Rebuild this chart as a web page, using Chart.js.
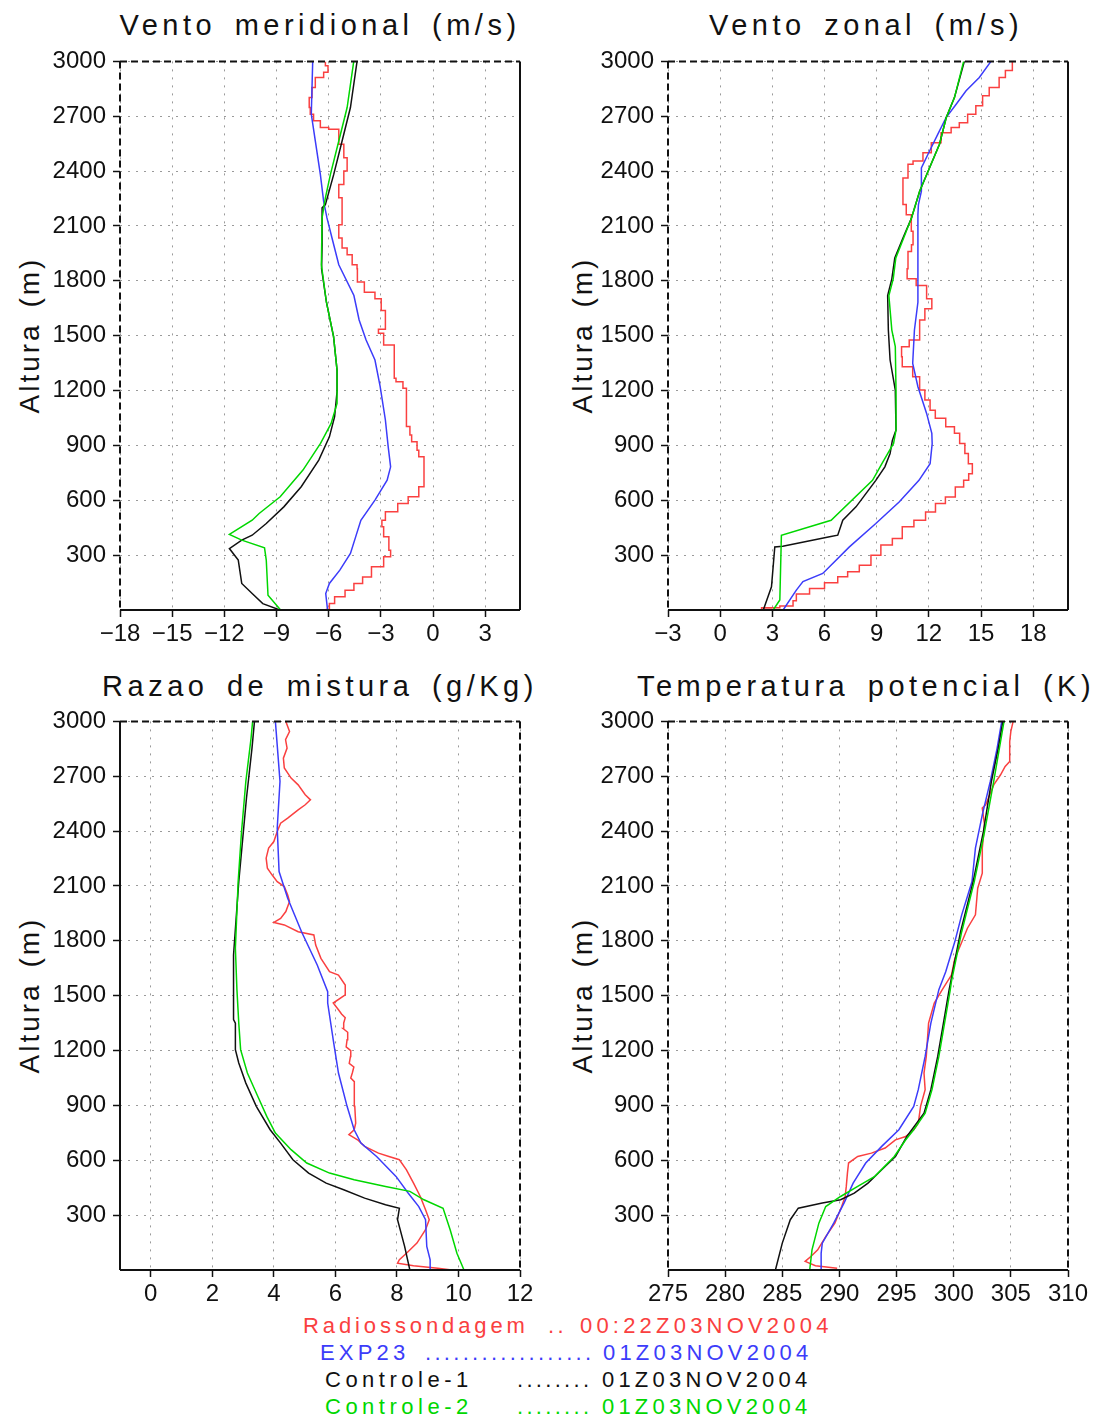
<!DOCTYPE html>
<html><head><meta charset="utf-8">
<script src="https://cdn.jsdelivr.net/npm/chart.js@4.4.1/dist/chart.umd.min.js"></script>
<style>
html,body{margin:0;padding:0;background:#fff;}
body{width:1097px;height:1423px;position:relative;overflow:hidden;font-family:"Liberation Sans",Arial,sans-serif;}
.cw{position:absolute;width:548px;height:610px;}
.title{position:absolute;font-size:29px;letter-spacing:4.5px;word-spacing:6px;white-space:pre;transform:translate(-50%,-50%);line-height:1;color:#111;}
.ytitle{position:absolute;font-size:28px;letter-spacing:3px;word-spacing:4px;white-space:pre;transform:translate(-50%,-50%) rotate(-90deg);line-height:1;color:#111;}
.leg{position:absolute;font-size:22px;letter-spacing:4.2px;white-space:pre;line-height:22px;}
.dots{letter-spacing:3.3px;}
</style>
</head><body>
<div class="title" style="left:320px;top:25px">Vento meridional (m/s)</div>
<div class="title" style="left:866px;top:25px">Vento zonal (m/s)</div>
<div class="title" style="left:320px;top:686px">Razao de mistura (g/Kg)</div>
<div class="title" style="left:866px;top:686px">Temperatura potencial (K)</div>
<div class="ytitle" style="left:30px;top:335px">Altura (m)</div>
<div class="ytitle" style="left:583px;top:335px">Altura (m)</div>
<div class="ytitle" style="left:30px;top:995px">Altura (m)</div>
<div class="ytitle" style="left:583px;top:995px">Altura (m)</div>

<div class="cw" style="left:0;top:40px"><canvas id="c1" width="548" height="610"></canvas></div>
<div class="cw" style="left:548px;top:40px"><canvas id="c2" width="548" height="610"></canvas></div>
<div class="cw" style="left:0;top:700px"><canvas id="c3" width="548" height="610"></canvas></div>
<div class="cw" style="left:548px;top:700px"><canvas id="c4" width="548" height="610"></canvas></div>

<div style="color:rgb(250,64,64)">
  <span class="leg" style="left:303px;top:1315px;letter-spacing:3.9px">Radiossondagem</span>
  <span class="leg dots" style="left:548px;top:1315px">..</span>
  <span class="leg" style="left:580px;top:1315px">00:22Z03NOV2004</span>
</div>
<div style="color:rgb(60,60,250)">
  <span class="leg" style="left:320px;top:1342px">EXP23</span>
  <span class="leg dots" style="left:425px;top:1342px">..................</span>
  <span class="leg" style="left:603px;top:1342px">01Z03NOV2004</span>
</div>
<div style="color:#111">
  <span class="leg" style="left:325px;top:1369px;letter-spacing:4.5px">Controle-1</span>
  <span class="leg dots" style="left:517px;top:1369px">........</span>
  <span class="leg" style="left:602px;top:1369px">01Z03NOV2004</span>
</div>
<div style="color:rgb(0,215,0)">
  <span class="leg" style="left:325px;top:1396px;letter-spacing:4.5px">Controle-2</span>
  <span class="leg dots" style="left:517px;top:1396px">........</span>
  <span class="leg" style="left:602px;top:1396px">01Z03NOV2004</span>
</div>

<script>
// ---------- tick labels ----------
const yTicks = [300,600,900,1200,1500,1800,2100,2400,2700,3000];
const merTicks = [-18,-15,-12,-9,-6,-3,0,3];
const zonTicks = [-3,0,3,6,9,12,15,18];
const mixTicks = [0,2,4,6,8,10,12];
const thTicks = [275,280,285,290,295,300,305,310];

// ---------- Vento meridional (m/s) ----------
const mer_radio_h = [3,35,72,108,145,181,236,291,327,400,455,491,537,583,619,674,710,838,874,920,957,1003,1048,1212,1248,1267,1312,1449,1513,1535,1574,1638,1702,1738,1793,1866,1888,1943,1979,2034,2107,2162,2254,2327,2400,2473,2547,2629,2638,2675,2711,2748,2802,2857,2912,2940,2976,3000];
const mer_radio_v = [-6.17,-5.96,-5.66,-5.06,-4.55,-4.05,-3.54,-2.84,-2.44,-2.54,-2.84,-2.94,-2.74,-2.03,-1.43,-0.82,-0.52,-0.52,-0.82,-0.92,-1.23,-1.33,-1.53,-1.53,-1.73,-2.13,-2.23,-2.23,-2.84,-3.14,-2.74,-2.74,-2.98,-3.34,-3.95,-4.35,-4.37,-4.65,-4.94,-5.23,-5.42,-5.23,-5.23,-5.42,-5.13,-4.94,-5.13,-5.42,-6.0,-6.48,-6.87,-7.06,-7.12,-6.96,-6.77,-6.29,-6.04,-6.19];
const mer_exp_h = [3,90,145,218,309,400,491,601,710,783,893,1039,1221,1367,1476,1586,1720,1888,2034,2144,2235,2382,2565,2711,3000];
const mer_exp_v = [-6.07,-6.17,-5.96,-5.36,-4.75,-4.45,-4.15,-3.34,-2.64,-2.44,-2.58,-2.74,-3.04,-3.34,-3.85,-4.25,-4.55,-5.42,-5.81,-6.10,-6.29,-6.48,-6.77,-7.0,-6.92];
const mer_c1_h = [3,35,90,145,273,336,382,409,473,564,674,820,947,1057,1194,1312,1495,1683,1866,1998,2199,2217,2382,2565,2748,3000];
const mer_c1_v = [-8.89,-9.79,-10.40,-11.00,-11.20,-11.71,-11.00,-10.40,-9.59,-8.58,-7.58,-6.57,-5.96,-5.66,-5.52,-5.52,-5.72,-6.13,-6.41,-6.38,-6.38,-6.19,-5.71,-5.23,-4.75,-4.37];
const mer_c2_h = [3,81,273,340,382,413,491,528,619,765,911,1020,1130,1312,1495,1683,1888,2144,2254,2382,2565,2748,3000];
const mer_c2_v = [-8.79,-9.49,-9.59,-9.69,-11.0,-11.71,-10.4,-10.0,-8.79,-7.48,-6.47,-5.86,-5.52,-5.52,-5.72,-6.13,-6.42,-6.38,-6.19,-5.90,-5.42,-4.94,-4.56];

// ---------- Vento zonal (m/s) ----------
const zon_radio_h = [3,12,22,50,87,118,149,182,209,245,300,355,391,455,491,536,582,618,673,709,745,800,856,911,966,1002,1048,1093,1148,1203,1276,1330,1385,1440,1476,1531,1586,1647,1702,1775,1811,1866,1961,1998,2071,2162,2217,2290,2363,2437,2455,2501,2555,2610,2638,2665,2711,2757,2812,2857,2912,2950,3000];
const zon_radio_v = [3.0,2.38,3.43,4.19,4.38,5.14,6.0,6.76,7.33,8.0,8.67,9.24,9.9,10.47,11.14,11.81,12.38,12.95,13.52,14.0,14.29,14.5,14.27,14.07,13.77,13.47,12.97,12.37,12.07,11.77,11.47,11.07,10.47,10.43,10.87,11.47,11.47,11.77,12.17,11.87,11.27,10.75,10.8,11.0,11.09,10.99,10.7,10.51,10.51,10.8,11.09,11.66,12.14,12.7,13.28,13.75,14.23,14.7,15.09,15.47,16.04,16.4,16.8];
const zon_exp_h = [0,109,155,200,345,473,591,709,800,909,966,1075,1221,1349,1531,1683,2162,2217,2290,2418,2510,2601,2693,2766,2839,2912,3000];
const zon_exp_v = [3.62,4.38,4.76,5.9,7.43,8.95,10.29,11.43,12.07,12.19,12.17,11.87,11.37,11.07,11.17,11.37,11.37,11.4,11.57,11.57,12.04,12.51,12.99,13.57,14.14,14.9,15.57];
const zon_c1_h = [0,127,345,349,400,409,491,564,709,783,856,927,984,1203,1367,1531,1720,1811,1925,2034,2144,2290,2418,2547,2693,2802,3000];
const zon_c1_v = [2.48,2.95,3.14,3.6,6.29,6.76,7.05,7.81,8.95,9.47,9.77,9.9,10.11,10.07,9.77,9.67,9.63,9.87,10.04,10.51,11.0,11.47,12.04,12.61,13.0,13.47,14.04];
const zon_c2_h = [0,55,409,491,709,800,911,984,1203,1440,1531,1720,1811,1925,2034,2144,2290,2418,2547,2693,2802,3000];
const zon_c2_v = [3.05,3.43,3.52,6.38,8.76,9.3,9.97,10.11,10.11,10.07,9.87,9.7,9.95,10.1,10.55,11.0,11.47,12.04,12.61,13.0,13.47,14.0];

// ---------- Razao de mistura (g/Kg) ----------
const mix_radio_h = [0,10,23,37,56,92,147,220,275,329,402,475,548,603,621,639,676,712,740,767,803,895,986,1030,1050,1077,1110,1130,1168,1200,1220,1259,1300,1320,1350,1380,1400,1423,1460,1504,1558,1613,1631,1704,1777,1832,1850,1887,1901,1923,1960,2015,2051,2097,2124,2161,2197,2252,2307,2343,2398,2443,2471,2516,2544,2571,2599,2653,2690,2745,2799,2854,2900,2945,3000];
const mix_radio_v = [9.78,9.33,8.54,8.02,8.08,8.31,8.65,8.93,9.05,8.93,8.76,8.54,8.31,8.08,7.74,7.40,6.95,6.72,6.44,6.61,6.66,6.63,6.61,6.62,6.50,6.55,6.60,6.45,6.49,6.50,6.35,6.38,6.40,6.25,6.27,6.32,6.20,6.10,5.93,6.32,6.32,6.10,5.81,5.53,5.36,5.30,4.79,4.34,4.0,4.22,4.39,4.51,4.45,4.34,4.11,3.94,3.79,3.75,3.83,4.0,4.11,4.22,4.45,4.79,5.02,5.19,5.02,4.79,4.56,4.34,4.31,4.43,4.38,4.51,4.39];
const mix_exp_h = [0,56,129,275,347,420,512,621,694,767,895,1077,1259,1460,1522,1668,1850,2033,2179,2416,2672,3000];
const mix_exp_v = [9.08,9.08,8.97,8.93,8.71,8.37,7.97,7.34,6.83,6.61,6.38,6.10,5.93,5.75,5.75,5.41,4.90,4.45,4.17,4.11,4.20,4.05];
const mix_c1_h = [0,129,275,338,357,393,439,475,530,603,694,767,895,1022,1132,1205,1350,1369,1723,2124,2580,2854,3000];
const mix_c1_v = [8.42,8.25,8.02,8.08,7.63,6.95,6.27,5.70,5.13,4.62,4.22,3.88,3.43,3.09,2.86,2.75,2.75,2.69,2.69,2.86,3.11,3.29,3.37];
const mix_c2_h = [0,92,220,338,384,430,457,493,530,585,658,749,840,949,1077,1205,1350,1533,1759,2124,2398,2672,2909,3000];
const mix_c2_v = [10.18,9.95,9.73,9.50,8.88,8.42,7.63,6.61,5.81,5.07,4.56,4.05,3.77,3.48,3.14,2.92,2.86,2.80,2.75,2.84,2.95,3.09,3.26,3.31];

// ---------- Temperatura potencial (K) ----------
const th_radio_h = [10,23,47,74,110,183,256,347,402,457,530,585,621,639,667,712,730,767,803,895,986,1077,1168,1350,1460,1533,1613,1704,1777,1869,1942,2088,2170,2307,2434,2526,2544,2653,2708,2754,2781,2890,2945,3000];
const th_radio_v = [289.8,287.9,287.0,287.5,288.1,288.8,289.6,290.2,290.5,290.6,290.7,290.8,291.6,292.8,294.0,294.9,295.8,296.5,296.9,297.1,297.5,297.4,297.6,297.8,298.3,299.0,299.8,300.1,300.6,301.2,301.9,302.1,302.5,302.5,302.7,302.5,302.8,303.5,304.1,304.5,304.9,304.9,305.0,305.2];
const th_exp_h = [0,92,147,256,366,475,585,676,767,895,986,1168,1350,1533,1631,1796,1942,2124,2307,2489,2672,2854,3000];
const th_exp_v = [288.4,288.4,288.5,289.5,290.4,291.2,292.3,293.7,295.2,296.5,296.9,297.5,298.0,298.7,299.3,300.1,300.7,301.6,301.9,302.5,303.2,303.8,304.2];
const th_c1_h = [0,147,275,338,366,384,420,475,548,621,730,858,986,1168,1350,1533,1850,2124,2398,2672,2854,3000];
const th_c1_v = [284.4,285.0,285.7,286.4,288.5,290.1,291.3,292.5,293.7,294.9,295.9,297.4,298.0,298.6,299.1,299.6,300.6,301.7,302.6,303.3,303.9,304.3];
const th_c2_h = [0,110,256,347,402,457,512,621,712,767,858,986,1168,1350,1533,1577,1850,2124,2398,2672,3000];
const th_c2_v = [287.4,287.6,288.2,288.8,290.1,291.6,293.1,294.8,295.8,296.5,297.5,298.1,298.7,299.2,299.7,299.8,300.7,301.8,302.7,303.5,304.4];

// ---------- styles ----------
const RED = 'rgb(250,64,64)', BLUE = 'rgb(60,60,250)', BLACK = '#111', GREEN = 'rgb(0,215,0)';
const FONT = '"Liberation Sans", Arial, sans-serif';

function pts(h, v) { return h.map((y, i) => ({x: v[i], y: y})); }
function fmt(v) { return v < 0 ? '\u2212' + Math.abs(v) : String(v); }

const framePlugin = {
  id: 'frame',
  afterDraw(chart, args, opts) {
    const {ctx, chartArea: a} = chart;
    const s = opts.sides || {};
    ctx.save();
    ctx.strokeStyle = '#111';
    ctx.lineWidth = 2;
    const seg = (x1, y1, x2, y2, st) => {
      ctx.setLineDash(st === 'dash' ? [7, 4] : []);
      ctx.beginPath(); ctx.moveTo(x1, y1); ctx.lineTo(x2, y2); ctx.stroke();
    };
    seg(a.left, a.top, a.right, a.top, s.top);
    seg(a.left, a.bottom, a.right, a.bottom, s.bottom);
    seg(a.left, a.top, a.left, a.bottom, s.left);
    seg(a.right, a.top, a.right, a.bottom, s.right);
    ctx.restore();
  }
};

function makeChart(id, xMin, xMax, xTicks, series, sides) {
  const datasets = series.map(s => ({
    data: pts(s.h, s.v),
    borderColor: s.color,
    borderWidth: 1.5,
    pointRadius: 0,
    showLine: true,
    fill: false,
    tension: 0,
    stepped: s.stepped ? 'before' : false
  }));
  return new Chart(document.getElementById(id), {
    type: 'scatter',
    data: {datasets},
    plugins: [framePlugin],
    options: {
      responsive: false,
      animation: false,
      events: [],
      layout: {padding: {top: 19, right: 28, left: 0, bottom: 0}},
      plugins: {legend: {display: false}, tooltip: {enabled: false}, title: {display: false}, frame: {sides}},
      scales: {
        x: {
          type: 'linear', min: xMin, max: xMax,
          afterBuildTicks: sc => { sc.ticks = xTicks.map(v => ({value: v})); },
          afterFit: sc => { sc.height = 40; },
          ticks: {autoSkip: false, maxRotation: 0, minRotation: 0, padding: 3, color: '#111',
                  font: {family: FONT, size: 24}, callback: v => fmt(v)},
          grid: {color: '#9a9a9a', lineWidth: 1, tickColor: '#111', tickLength: 7, tickWidth: 1.5, tickBorderDash: []},
          border: {display: false, dash: [2, 6]}
        },
        y: {
          type: 'linear', min: 0, max: 3000,
          afterBuildTicks: sc => { sc.ticks = yTicks.map(v => ({value: v})); },
          afterFit: sc => { sc.width = 120; },
          ticks: {autoSkip: false, padding: 7, color: '#111', font: {family: FONT, size: 24}, callback: v => String(v)},
          grid: {color: '#9a9a9a', lineWidth: 1, tickColor: '#111', tickLength: 7, tickWidth: 1.5, tickBorderDash: []},
          border: {display: false, dash: [2, 6]}
        }
      }
    }
  });
}

makeChart('c1', -18, 5, merTicks, [
  {h: mer_c2_h, v: mer_c2_v, color: GREEN},
  {h: mer_c1_h, v: mer_c1_v, color: BLACK},
  {h: mer_exp_h, v: mer_exp_v, color: BLUE},
  {h: mer_radio_h, v: mer_radio_v, color: RED, stepped: true}
], {top: 'dash', left: 'dash', right: 'solid', bottom: 'solid'});

makeChart('c2', -3, 20, zonTicks, [
  {h: zon_c2_h, v: zon_c2_v, color: GREEN},
  {h: zon_c1_h, v: zon_c1_v, color: BLACK},
  {h: zon_exp_h, v: zon_exp_v, color: BLUE},
  {h: zon_radio_h, v: zon_radio_v, color: RED, stepped: true}
], {top: 'dash', left: 'dash', right: 'solid', bottom: 'solid'});

makeChart('c3', -1, 12, mixTicks, [
  {h: mix_c2_h, v: mix_c2_v, color: GREEN},
  {h: mix_c1_h, v: mix_c1_v, color: BLACK},
  {h: mix_exp_h, v: mix_exp_v, color: BLUE},
  {h: mix_radio_h, v: mix_radio_v, color: RED}
], {top: 'dash', left: 'solid', right: 'dash', bottom: 'solid'});

makeChart('c4', 275, 310, thTicks, [
  {h: th_c2_h, v: th_c2_v, color: GREEN},
  {h: th_c1_h, v: th_c1_v, color: BLACK},
  {h: th_exp_h, v: th_exp_v, color: BLUE},
  {h: th_radio_h, v: th_radio_v, color: RED}
], {top: 'dash', left: 'dash', right: 'dash', bottom: 'solid'});
</script>
</body></html>
